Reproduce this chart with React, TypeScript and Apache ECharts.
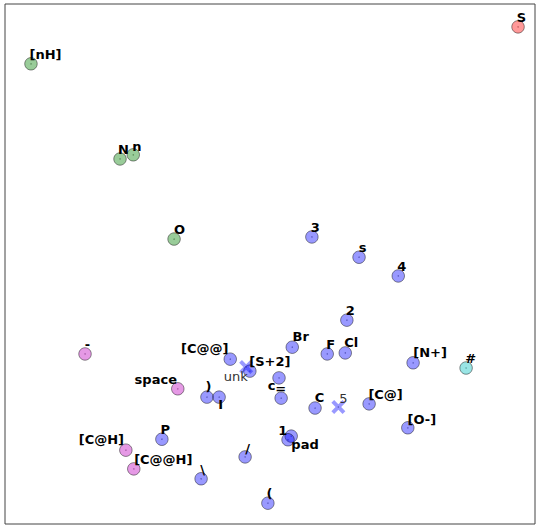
import React, { useEffect, useRef } from "react";
import * as echarts from "echarts";

// token embedding (2-D projection), axis units 0..100
const tokens = ["S", "[nH]", "N", "n", "O", "-", "space", "[C@H]", "[C@@H]", "#",
  "3", "s", "4", "2", "Br", "F", "Cl", "[N+]", "[C@@]", "[S+2]",
  "c", "=", ")", "I", "C", "[C@]", "[O-]", "1", "pad", "P",
  "/", "\\", "(", "unk", "5"];
const xs = [96.8, 4.9, 21.7, 24.2, 31.9, 15.1, 32.6, 22.8, 24.3, 87.0,
  57.9, 66.8, 74.2, 64.5, 54.2, 60.8, 64.2, 77.0, 42.5, 46.2,
  51.7, 52.1, 38.1, 40.4, 58.5, 68.7, 76.0, 54.0, 53.4, 29.6,
  45.3, 37.0, 49.6, 45.5, 62.9];
const ys = [95.6, 88.5, 70.2, 71.0, 54.8, 32.7, 26.0, 14.2, 10.6, 30.0,
  55.2, 51.3, 47.7, 39.2, 34.0, 32.7, 32.9, 31.0, 31.7, 29.4,
  28.1, 24.2, 24.4, 24.4, 22.3, 23.1, 18.5, 16.9, 16.2, 16.3,
  12.9, 8.7, 4.0, 30.2, 22.5];
// group: red / green / magenta / cyan / blue / special (X marker)
const groups = ["red", "green", "green", "green", "green", "magenta", "magenta", "magenta", "magenta", "cyan",
  "blue", "blue", "blue", "blue", "blue", "blue", "blue", "blue", "blue", "blue",
  "blue", "blue", "blue", "blue", "blue", "blue", "blue", "blue", "blue", "blue",
  "blue", "blue", "blue", "special", "special"];

// layout: label offsets (px) from point centre
const LABEL_OFFSETS: Record<string, [number, number]> = {
  "S": [4, -9], "[nH]": [15, -9], "N": [4, -9], "n": [4, -8], "O": [6, -9],
  "-": [3, -9], "space": [-21.5, -9], "[C@H]": [-24, -10], "[C@@H]": [30, -9], "#": [5, -9],
  "3": [4, -9], "s": [4, -9], "4": [4, -9], "2": [4, -9], "Br": [9, -10],
  "F": [4, -9], "Cl": [6.5, -10], "[N+]": [17.5, -10], "[C@@]": [-25, -10], "[S+2]": [20.5, -9],
  "c": [-7, 8], "=": [0, -9], ")": [2, -10], "I": [2, 8], "C": [5, -10],
  "[C@]": [17, -9], "[O-]": [14.5, -8], "1": [-8, -5], "pad": [17.5, 5], "P": [4, -9],
  "/": [3, -8], "\\": [2, -9], "(": [2, -9], "unk": [-10.5, 10], "5": [5, -9],
};

const COLORS: Record<string, string> = {
  red: "rgba(255,0,0,0.5)", green: "rgba(0,128,0,0.5)", magenta: "rgba(191,0,191,0.5)",
  cyan: "rgba(0,191,191,0.5)", blue: "rgba(0,0,255,0.5)", special: "rgba(0,0,255,0.5)",
};

const X_PATH = "path://M0,2 L2,0 L5,3 L8,0 L10,2 L7,5 L10,8 L8,10 L5,7 L2,10 L0,8 L3,5 Z";

export default function App() {
  const ref = useRef<HTMLDivElement>(null);
  useEffect(() => {
    const chart = echarts.init(ref.current!, null, { renderer: "svg" });
    const groupOrder = ["blue", "special", "green", "magenta", "cyan", "red"];
    const series: any[] = groupOrder.map((g) => {
      const isX = g === "special";
      const size = isX ? 14 : 12.5;
      const data = tokens
        .map((t, i) => ({ t, i }))
        .filter(({ i }) => groups[i] === g)
        .map(({ t, i }) => {
          const off = LABEL_OFFSETS[t] || [4, -9];
          return {
            value: [xs[i], ys[i]],
            name: t,
            label: {
              show: true,
              formatter: () => t,
              position: [size / 2 + off[0], size / 2 + off[1]],
              align: "center",
              verticalAlign: "middle",
              fontFamily: "DejaVu Sans",
              fontSize: 13,
              fontWeight: isX ? "normal" : "bold",
              color: isX ? "#333" : "#000",
              textBorderWidth: 0,
              textBorderColor: "transparent",
              opacity: 1,
            },
          };
        });
      return {
        type: "scatter",
        data,
        symbol: isX ? X_PATH : "circle",
        symbolSize: size,
        itemStyle: isX
          ? { color: COLORS[g] }
          : { color: COLORS[g], borderColor: "rgba(0,0,0,0.55)", borderWidth: 1 },
        labelLayout: { hideOverlap: false },
        z: 2,
      };
    });
    series.push({
      type: "scatter",
      data: tokens.map((_, i) => [xs[i], ys[i]]),
      symbol: "circle",
      symbolSize: 1.5,
      itemStyle: { color: "rgba(0,0,0,0.5)" },
      silent: true,
      z: 1,
    });
    chart.setOption({
      animation: false,
      grid: { left: 5, top: 4, right: 1, bottom: 1, show: true, borderColor: "#444", borderWidth: 1, backgroundColor: "#fff" },
      xAxis: { type: "value", min: 0, max: 100, show: false },
      yAxis: { type: "value", min: 0, max: 100, show: false },
      series,
    });
    return () => chart.dispose();
  }, []);
  return <div ref={ref} style={{ position: "fixed", left: 0, top: 0, width: 536, height: 525, background: "#fff" }} />;
}
